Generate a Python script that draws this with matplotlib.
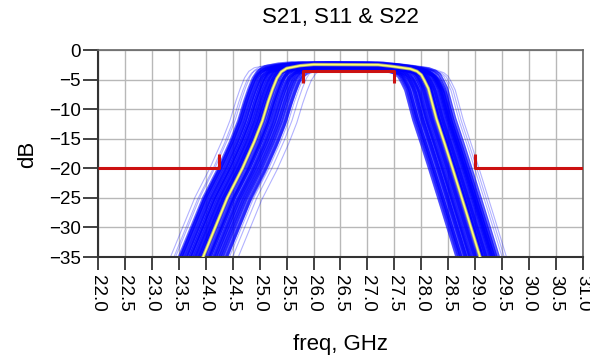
import numpy as np
import matplotlib
matplotlib.use('Agg')
import matplotlib.pyplot as plt
import matplotlib.patheffects as pe

plt.rcParams['font.family'] = ['Liberation Sans', 'DejaVu Sans']

# nominal S21, lower skirt (GHz, dB)
lo_freq = [23.85, 23.95, 24.40, 24.68, 24.90, 25.05, 25.16, 25.24, 25.32, 25.40, 25.50, 25.75, 26.00]
lo_db = [-37.2, -35.0, -25.0, -20.0, -15.5, -12.0, -8.7, -6.6, -4.8, -3.7, -3.1, -2.65, -2.45]
# nominal S21, upper skirt (GHz, dB)
hi_freq = [27.20, 27.45, 27.80, 27.92, 28.00, 28.06, 28.13, 28.28, 28.44, 28.58, 28.82, 29.09, 29.17]
hi_db = [-2.50, -2.75, -3.2, -3.6, -4.2, -5.2, -6.5, -11.6, -16.0, -20.0, -27.0, -35.0, -37.5]

# Monte Carlo runs: skirt shifts (GHz) and loss change (dB) per run
shift_lo = [-0.60, -0.55, -0.50, -0.46, -0.44, -0.42, -0.40, -0.38, -0.36, -0.34,
            -0.32, -0.30, -0.28, -0.26, -0.24, -0.22, -0.20, -0.18, -0.16, -0.14,
            -0.12, -0.10, -0.08, -0.06, -0.04, -0.02, 0.00, 0.02, 0.04, 0.06,
            0.08, 0.10, 0.12, 0.14, 0.16, 0.18, 0.20, 0.22, 0.24, 0.26,
            0.28, 0.30, 0.32, 0.35, 0.38, 0.41, 0.44, 0.48, 0.55, 0.64]
shift_hi = [0.10, -0.30, 0.26, -0.05, 0.34, -0.42, 0.04, 0.18, -0.20, 0.28,
            -0.12, 0.50, -0.36, 0.08, -0.26, 0.22, -0.02, 0.14, -0.40, 0.30,
            -0.16, 0.02, 0.24, -0.32, 0.12, -0.08, 0.20, -0.22, 0.42, -0.14,
            0.06, -0.38, 0.16, -0.28, 0.32, -0.10, -0.44, 0.26, -0.18, 0.00,
            0.36, -0.34, 0.10, -0.06, 0.22, -0.24, 0.04, 0.28, -0.30, 0.46]
loss_db = [0.10, -0.20, 0.25, -0.45, 0.05, -0.30, 0.30, -0.10, 0.15, -0.60,
           0.00, -0.25, 0.20, -0.35, 0.10, -0.15, 0.28, -0.50, 0.05, -0.05,
           -0.70, 0.18, -0.20, 0.12, -0.40, 0.22, -0.10, 0.02, -0.30, 0.30,
           -0.55, 0.08, -0.15, 0.25, -0.80, 0.15, -0.05, -0.35, 0.20, -0.25,
           0.10, -0.45, 0.28, -0.12, 0.00, -0.65, 0.16, -0.20, 0.06, -0.30]

# spec limit lines
stop_lo = ([22.0, 24.25, 24.25], [-20.0, -20.0, -17.5])
stop_hi = ([29.0, 29.0, 31.0], [-17.5, -20.0, -20.0])
passband = ([25.8, 25.8, 27.5, 27.5], [-5.6, -3.5, -3.5, -5.6])

xticks = np.arange(22.0, 31.01, 0.5)
yticks = [0, -5, -10, -15, -20, -25, -30, -35]

fig = plt.figure(figsize=(5.9, 3.58), dpi=100)
ax = fig.add_axes([0.1661, 0.2821, 0.8219, 0.5782])

lo_f = np.array(lo_freq)
hi_f = np.array(hi_freq)
nom_db = np.array(lo_db + hi_db)
for dl, dh, dg in zip(shift_lo, shift_hi, loss_db):
    f = np.concatenate([lo_f + dl, hi_f + dh])
    # outer runs drawn thinner and paler
    edge = abs(dl) > 0.45 or dh > 0.35 or dh < -0.42
    ax.plot(f, nom_db + dg, color='#0000ff', lw=0.8 if edge else 2.2,
            alpha=0.3 if edge else 0.6, zorder=2)

ax.plot(lo_freq + hi_freq, nom_db, color='#ffff70', lw=1.2, zorder=3,
        path_effects=[pe.Stroke(linewidth=2.4, foreground='#9a9a88'), pe.Normal()])

for xs, ys in (stop_lo, stop_hi, passband):
    ax.plot(xs, ys, color='#cc1111', lw=2.2, zorder=4, solid_capstyle='butt')

ax.set_xlim(22, 31)
ax.set_ylim(-35, 0)
ax.set_xticks(xticks)
ax.set_xticklabels([f'{v:.1f}' for v in xticks], rotation=270)
ax.set_yticks(yticks)
ax.grid(True, color='#b8b8b8', lw=1.0, zorder=0)
ax.set_axisbelow(True)
ax.tick_params(axis='y', length=11, width=1.3, color='#333333', labelsize=13.5, pad=1.5)
ax.tick_params(axis='x', length=9.5, width=1.3, color='#333333', labelsize=13.5, pad=3.5)
for s in ('left', 'bottom'):
    ax.spines[s].set_color('#333333')
    ax.spines[s].set_linewidth(1.5)
for s in ('top', 'right'):
    ax.spines[s].set_color('#666666')
    ax.spines[s].set_linewidth(1.2)

fig.text(0.577, 0.95, 'S21, S11 & S22', ha='center', va='center', fontsize=16)
fig.text(0.577, 0.039, 'freq, GHz', ha='center', va='center', fontsize=16)
fig.text(0.046, 0.57, 'dB', ha='center', va='center', rotation=90, fontsize=16)

fig.savefig('out.png', dpi=100)
